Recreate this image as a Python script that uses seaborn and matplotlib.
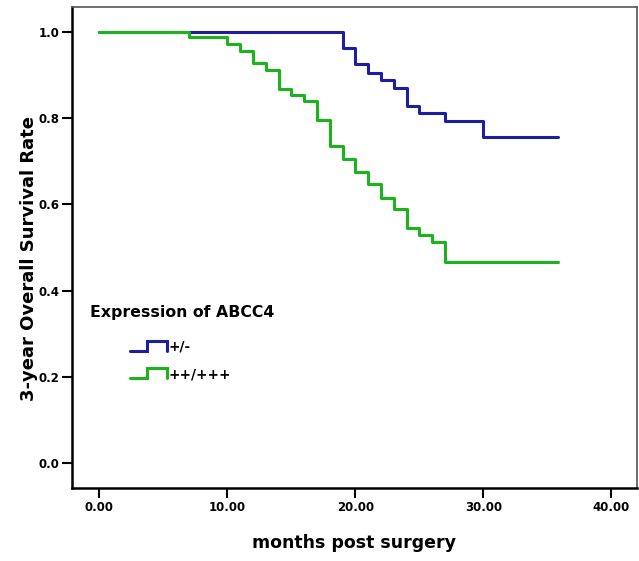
import matplotlib
matplotlib.use("Agg")
import matplotlib.pyplot as plt
from matplotlib.legend_handler import HandlerBase
from matplotlib.lines import Line2D
import seaborn as sns
import pandas as pd

# Kaplan-Meier step values
blue_months = [0, 19.0, 20.0, 21.0, 22.0, 23.0, 24.0, 25.0, 27.0, 30.0, 35.8]
blue_surv = [1.0, 0.964, 0.925, 0.906, 0.889, 0.869, 0.828, 0.811, 0.793, 0.756, 0.756]

green_months = [0, 7, 10, 11, 12, 13, 14, 15, 16, 17, 18, 19, 20, 21, 22, 23, 24, 25, 26, 27, 35.8]
green_surv = [1.0, 0.988, 0.972, 0.956, 0.927, 0.912, 0.867, 0.855, 0.840, 0.796, 0.735,
              0.706, 0.675, 0.647, 0.616, 0.589, 0.545, 0.529, 0.513, 0.467, 0.467]

groups = ["+/-", "++/+++"]
colors = {"+/-": "#1b1fa0", "++/+++": "#1db31d"}

x_ticks = [0, 10, 20, 30, 40]
y_ticks = [0.0, 0.2, 0.4, 0.6, 0.8, 1.0]

df = pd.concat([
    pd.DataFrame({"months": blue_months, "surv": blue_surv, "group": groups[0]}),
    pd.DataFrame({"months": green_months, "surv": green_surv, "group": groups[1]}),
])


class StepHandler(HandlerBase):
    # little "_|‾|" glyph like the SPSS legend
    def create_artists(self, legend, orig_handle, xdescent, ydescent,
                       width, height, fontsize, trans):
        x0, y0 = -xdescent, -ydescent
        mid = x0 + width * 0.44
        top = y0 + height
        line = Line2D([x0, mid, mid, x0 + width, x0 + width],
                      [y0, y0, top, top, y0],
                      color=orig_handle.get_color(), lw=2.2,
                      solid_joinstyle="miter", transform=trans)
        return [line]


sns.set_theme(style="white")
plt.rcParams["font.family"] = ["DejaVu Sans"]
plt.rcParams["font.weight"] = "bold"
plt.rcParams["text.color"] = "black"
plt.rcParams["axes.labelcolor"] = "black"
plt.rcParams["xtick.color"] = "black"
plt.rcParams["ytick.color"] = "black"

fig = plt.figure(figsize=(6.39, 5.61), dpi=100)
ax = fig.add_axes([0.1122, 0.130, 0.8847, 0.8575])

sns.lineplot(data=df, x="months", y="surv", hue="group", hue_order=groups,
             palette=colors, estimator=None, sort=True, drawstyle="steps-post",
             linewidth=2.2, legend=False, ax=ax)

ax.set_xlim(-2.16, 42.0)
ax.set_ylim(-0.058, 1.058)
ax.set_xticks(x_ticks)
ax.set_xticklabels([f"{t:.2f}" for t in x_ticks], fontsize=8.5, fontweight="bold")
ax.set_yticks(y_ticks)
ax.set_yticklabels([f"{t:.1f}" for t in y_ticks], fontsize=8.5, fontweight="bold")
ax.tick_params(axis="both", direction="out", length=7, width=1.5, color="black",
               bottom=True, left=True, pad=2)

ax.set_xlabel("months post surgery", fontsize=12.5, fontweight="bold", labelpad=15)
ax.set_ylabel("3-year Overall Survival Rate", fontsize=13, fontweight="bold")
ax.yaxis.set_label_coords(-0.0596, 0.478)

for side in ["left", "bottom"]:
    ax.spines[side].set_color("black")
    ax.spines[side].set_linewidth(1.8)
for side in ["top", "right"]:
    ax.spines[side].set_color("#555555")
    ax.spines[side].set_linewidth(1.2)

ax.text(0.032, 0.366, "Expression of ABCC4", transform=ax.transAxes,
        fontsize=11.3, fontweight="bold", va="center", ha="left")

handles = [Line2D([], [], color=colors[g]) for g in groups]
ax.legend(handles, groups, handler_map={Line2D: StepHandler()},
          loc="upper left", bbox_to_anchor=(0.104, 0.309), frameon=False,
          handlelength=2.7, handleheight=0.75, handletextpad=0.1, labelspacing=1.0,
          borderpad=0, borderaxespad=0, prop={"weight": "bold", "size": 9.8})

fig.savefig("out.png", dpi=100, facecolor="white")
